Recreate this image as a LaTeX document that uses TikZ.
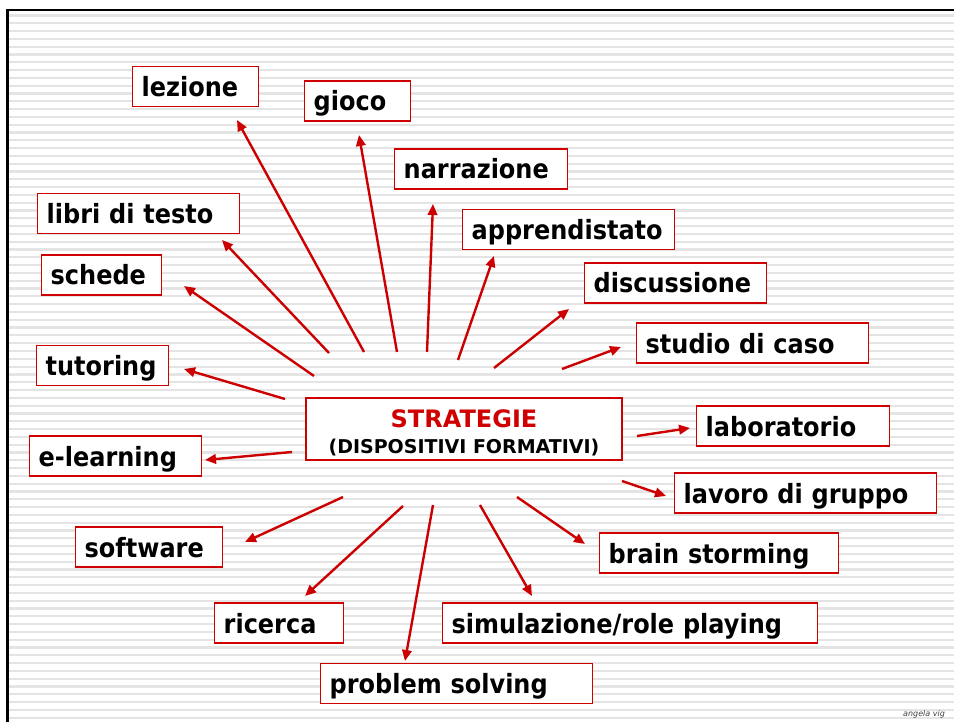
\documentclass[tikz,border=0pt]{standalone}
\usepackage{fontspec}
\setmainfont{DejaVu Sans}
\newfontfamily\tallfont{DejaVu Sans}[FakeStretch=0.905]
\usetikzlibrary{arrows.meta}

\definecolor{boxred}{RGB}{208,0,0}
\definecolor{arrred}{RGB}{204,0,0}
\definecolor{stripe}{RGB}{228,228,228}

\begin{document}
\begin{tikzpicture}[
      x=1pt, y=-1pt,
      box/.style={rectangle, draw=boxred, line width=1.4pt, fill=white, anchor=west,
        minimum height=40pt, inner xsep=9pt, inner ysep=2pt, align=left,
        text width=#1, text height=22pt, text depth=2pt,
        font=\tallfont\fontsize{26.5}{28}\selectfont\bfseries},
      hub/.style={rectangle, draw=boxred, line width=1.4pt, fill=white,
        minimum width=316pt, minimum height=62pt, inner sep=2pt, align=center,
        font=\fontsize{19}{26}\selectfont\bfseries},
      arr/.style={-{Triangle[length=11pt, width=9.5pt]}, line width=2.4pt, arrred},
    ]
    \useasboundingbox (0,0) rectangle (954,722);
    % striped background and frame
    \foreach \k in {0,...,90}
      \fill[stripe] (9,{14.5+7.8*\k}) rectangle (954,{16.7+7.8*\k});
    \draw[line width=2.6pt] (7.5,722) -- (7.5,10) -- (954,10);

    % centre
    \node[hub] (strategie) at (464,429)
      {\rule{0pt}{25.5pt}{\fontsize{24}{26}\selectfont\color{boxred}STRATEGIE}\\
       (DISPOSITIVI FORMATIVI)};

    % strategies
    \node[box=108pt] (lezione) at (132,86.5) {lezione};
    \node[box=88pt] (gioco) at (304,101) {gioco};
    \node[box=155pt] (narrazione) at (394,169) {narrazione};
    \node[box=194pt] (apprendistato) at (462,229.5) {apprendistato};
    \node[box=164pt] (discussione) at (584,283) {discussione};
    \node[box=214pt] (caso) at (636,343) {studio di caso};
    \node[box=175pt] (laboratorio) at (696,426) {laboratorio};
    \node[box=244pt] (gruppo) at (674,493) {lavoro di gruppo};
    \node[box=221pt] (brain) at (599,553) {brain storming};
    \node[box=357pt] (simulazione) at (442,623) {simulazione/role playing};
    \node[box=254pt] (problem) at (320,683.5) {problem solving};
    \node[box=111pt] (ricerca) at (214,623) {ricerca};
    \node[box=129pt] (software) at (75,547) {software};
    \node[box=154pt] (elearning) at (29,456) {e-learning};
    \node[box=114pt] (tutoring) at (36,365.5) {tutoring};
    \node[box=102pt] (schede) at (41,275) {schede};
    \node[box=184pt] (libri) at (37,213.5) {libri di testo};

    % rays
    \foreach \n/\sx/\sy/\ex/\ey in {
        lezione/364/352/237/120, gioco/397/352/359/135,
        narrazione/427/352/433/204, apprendistato/458/360/494/256,
        discussione/494/368/569/309, caso/562/369/621/347,
        laboratorio/637/436/690/428, gruppo/622/481/666/496,
        brain/517/497/585/544, simulazione/480/505/532/596,
        problem/433/505/405/661, ricerca/403/506/305/596,
        software/343/497/245/542, elearning/292/452/205/460,
        tutoring/285/399/184/369, schede/314/376/184/286,
        libri/329/353/222/240} {
      \coordinate (\n-from) at (\sx,\sy);
      \coordinate (\n-to) at (\ex,\ey);
      \draw[arr] (\n-from) -- (\n-to);
    }

    \node[anchor=west, inner sep=0pt, font=\fontsize{8}{9}\selectfont\itshape, text=black!75]
      (firma) at (903,714) {angela vig};
  \end{tikzpicture}
\end{document}
